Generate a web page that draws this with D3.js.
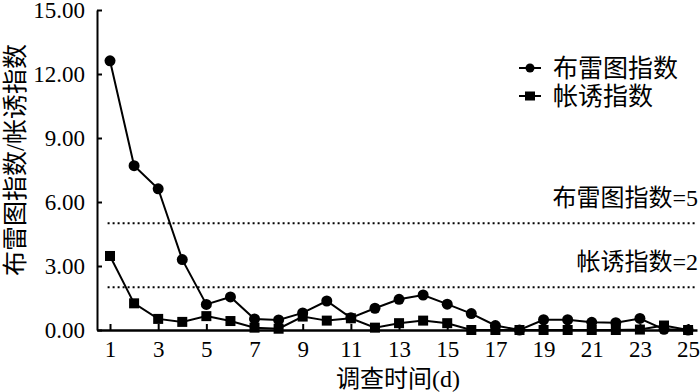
<!DOCTYPE html>
<html>
<head>
<meta charset="utf-8">
<script src="https://cdn.jsdelivr.net/npm/d3@7"></script>
<style>
  body { margin: 0; background: #fff; }
  text { font-family: "Liberation Serif", "Noto Sans CJK SC", serif; fill: #000; }
</style>
</head>
<body>
<div id="chart"></div>
<script>
// Data
const days = d3.range(1, 26);
const breteauIndex = [12.62, 7.7, 6.62, 3.3, 1.2, 1.55, 0.52, 0.47, 0.8, 1.36, 0.57, 1.02, 1.44,
  1.64, 1.21, 0.77, 0.21, 0.0, 0.48, 0.48, 0.36, 0.34, 0.54, 0.03, 0.0];
const netTrapIndex = [3.47, 1.25, 0.52, 0.38, 0.65, 0.42, 0.11, 0.06, 0.63, 0.44, 0.55, 0.11, 0.32,
  0.44, 0.32, 0.0, 0.0, 0.0, 0.0, 0.0, 0.0, 0.0, 0.02, 0.21, 0.0];
const yTicks = [0, 3, 6, 9, 12, 15];
const xTicks = [1, 3, 5, 7, 9, 11, 13, 15, 17, 19, 21, 23, 25];
const thresholds = [
  { value: 5, label: '布雷图指数=5' },
  { value: 2, label: '帐诱指数=2' }
];
const seriesNames = ['布雷图指数', '帐诱指数'];

// Layout
const WIDTH = 700;
const HEIGHT = 392;

const svg = d3.select('#chart')
  .append('svg')
  .attr('width', WIDTH)
  .attr('height', HEIGHT);

const x = d3.scaleLinear().domain([0.46, 25.37]).range([97, 697]);
const y = d3.scaleLinear().domain([0, 15]).range([330, 10]);

// Threshold lines
svg.selectAll('.thr')
  .data(thresholds)
  .join('line')
  .attr('x1', x(0.9))
  .attr('x2', x(25.37))
  .attr('y1', d => y(d.value))
  .attr('y2', d => y(d.value))
  .attr('stroke', '#000')
  .attr('stroke-width', 2)
  .attr('stroke-dasharray', '2,3');

svg.selectAll('.thrLabel')
  .data(thresholds)
  .join('text')
  .attr('x', 698)
  .attr('y', d => y(d.value) - 17)
  .attr('text-anchor', 'end')
  .attr('font-size', 24)
  .text(d => d.label);

// Axes
const yAxis = svg.append('g')
  .attr('transform', `translate(${x.range()[0]},0)`)
  .call(d3.axisLeft(y).tickValues(yTicks).tickSize(-5).tickSizeOuter(0)
    .tickFormat(d3.format('.2f')).tickPadding(12));
yAxis.select('.domain').attr('stroke-width', 2);
yAxis.selectAll('.tick line').attr('stroke-width', 2);
yAxis.selectAll('text').attr('font-size', 23).attr('font-family', '"Liberation Serif", serif');

const xAxis = svg.append('g')
  .attr('transform', `translate(0,${y(0)})`)
  .call(d3.axisBottom(x).tickValues(xTicks).tickSize(-6).tickSizeOuter(0).tickPadding(11));
xAxis.select('.domain').attr('stroke-width', 2.5);
xAxis.selectAll('.tick line').attr('stroke-width', 2);
xAxis.selectAll('text').attr('font-size', 23).attr('font-family', '"Liberation Serif", serif');

// Axis titles
svg.append('text')
  .attr('x', 398)
  .attr('y', 387)
  .attr('text-anchor', 'middle')
  .attr('font-size', 24)
  .text('调查时间(d)');

svg.append('text')
  .attr('transform', 'translate(24,160) rotate(-90)')
  .attr('text-anchor', 'middle')
  .attr('font-size', 25)
  .text('布雷图指数/帐诱指数');

// Lines
const line = d3.line().x((d, i) => x(days[i])).y(d => y(d));

svg.append('path')
  .attr('d', line(netTrapIndex))
  .attr('fill', 'none')
  .attr('stroke', '#000')
  .attr('stroke-width', 2);

svg.append('path')
  .attr('d', line(breteauIndex))
  .attr('fill', 'none')
  .attr('stroke', '#000')
  .attr('stroke-width', 2);

svg.selectAll('.sq')
  .data(netTrapIndex)
  .join('rect')
  .attr('x', (d, i) => x(days[i]) - 5)
  .attr('y', d => y(d) - 5)
  .attr('width', 10)
  .attr('height', 10)
  .attr('fill', '#000');

svg.selectAll('.dot')
  .data(breteauIndex)
  .join('circle')
  .attr('cx', (d, i) => x(days[i]))
  .attr('cy', d => y(d))
  .attr('r', 5.5)
  .attr('fill', '#000');

// Legend
const legend = svg.append('g').attr('transform', 'translate(519,68)');
seriesNames.forEach((name, i) => {
  const g = legend.append('g').attr('transform', `translate(0,${i * 28})`);
  g.append('line').attr('x1', 0).attr('x2', 22).attr('stroke', '#000').attr('stroke-width', 2);
  if (i === 0) {
    g.append('circle').attr('cx', 11).attr('r', 4.5).attr('fill', '#000');
  } else {
    g.append('rect').attr('x', 6).attr('y', -4.5).attr('width', 10).attr('height', 9).attr('fill', '#000');
  }
  g.append('text').attr('x', 34).attr('y', 9).attr('font-size', 25).text(name);
});
</script>
</body>
</html>
